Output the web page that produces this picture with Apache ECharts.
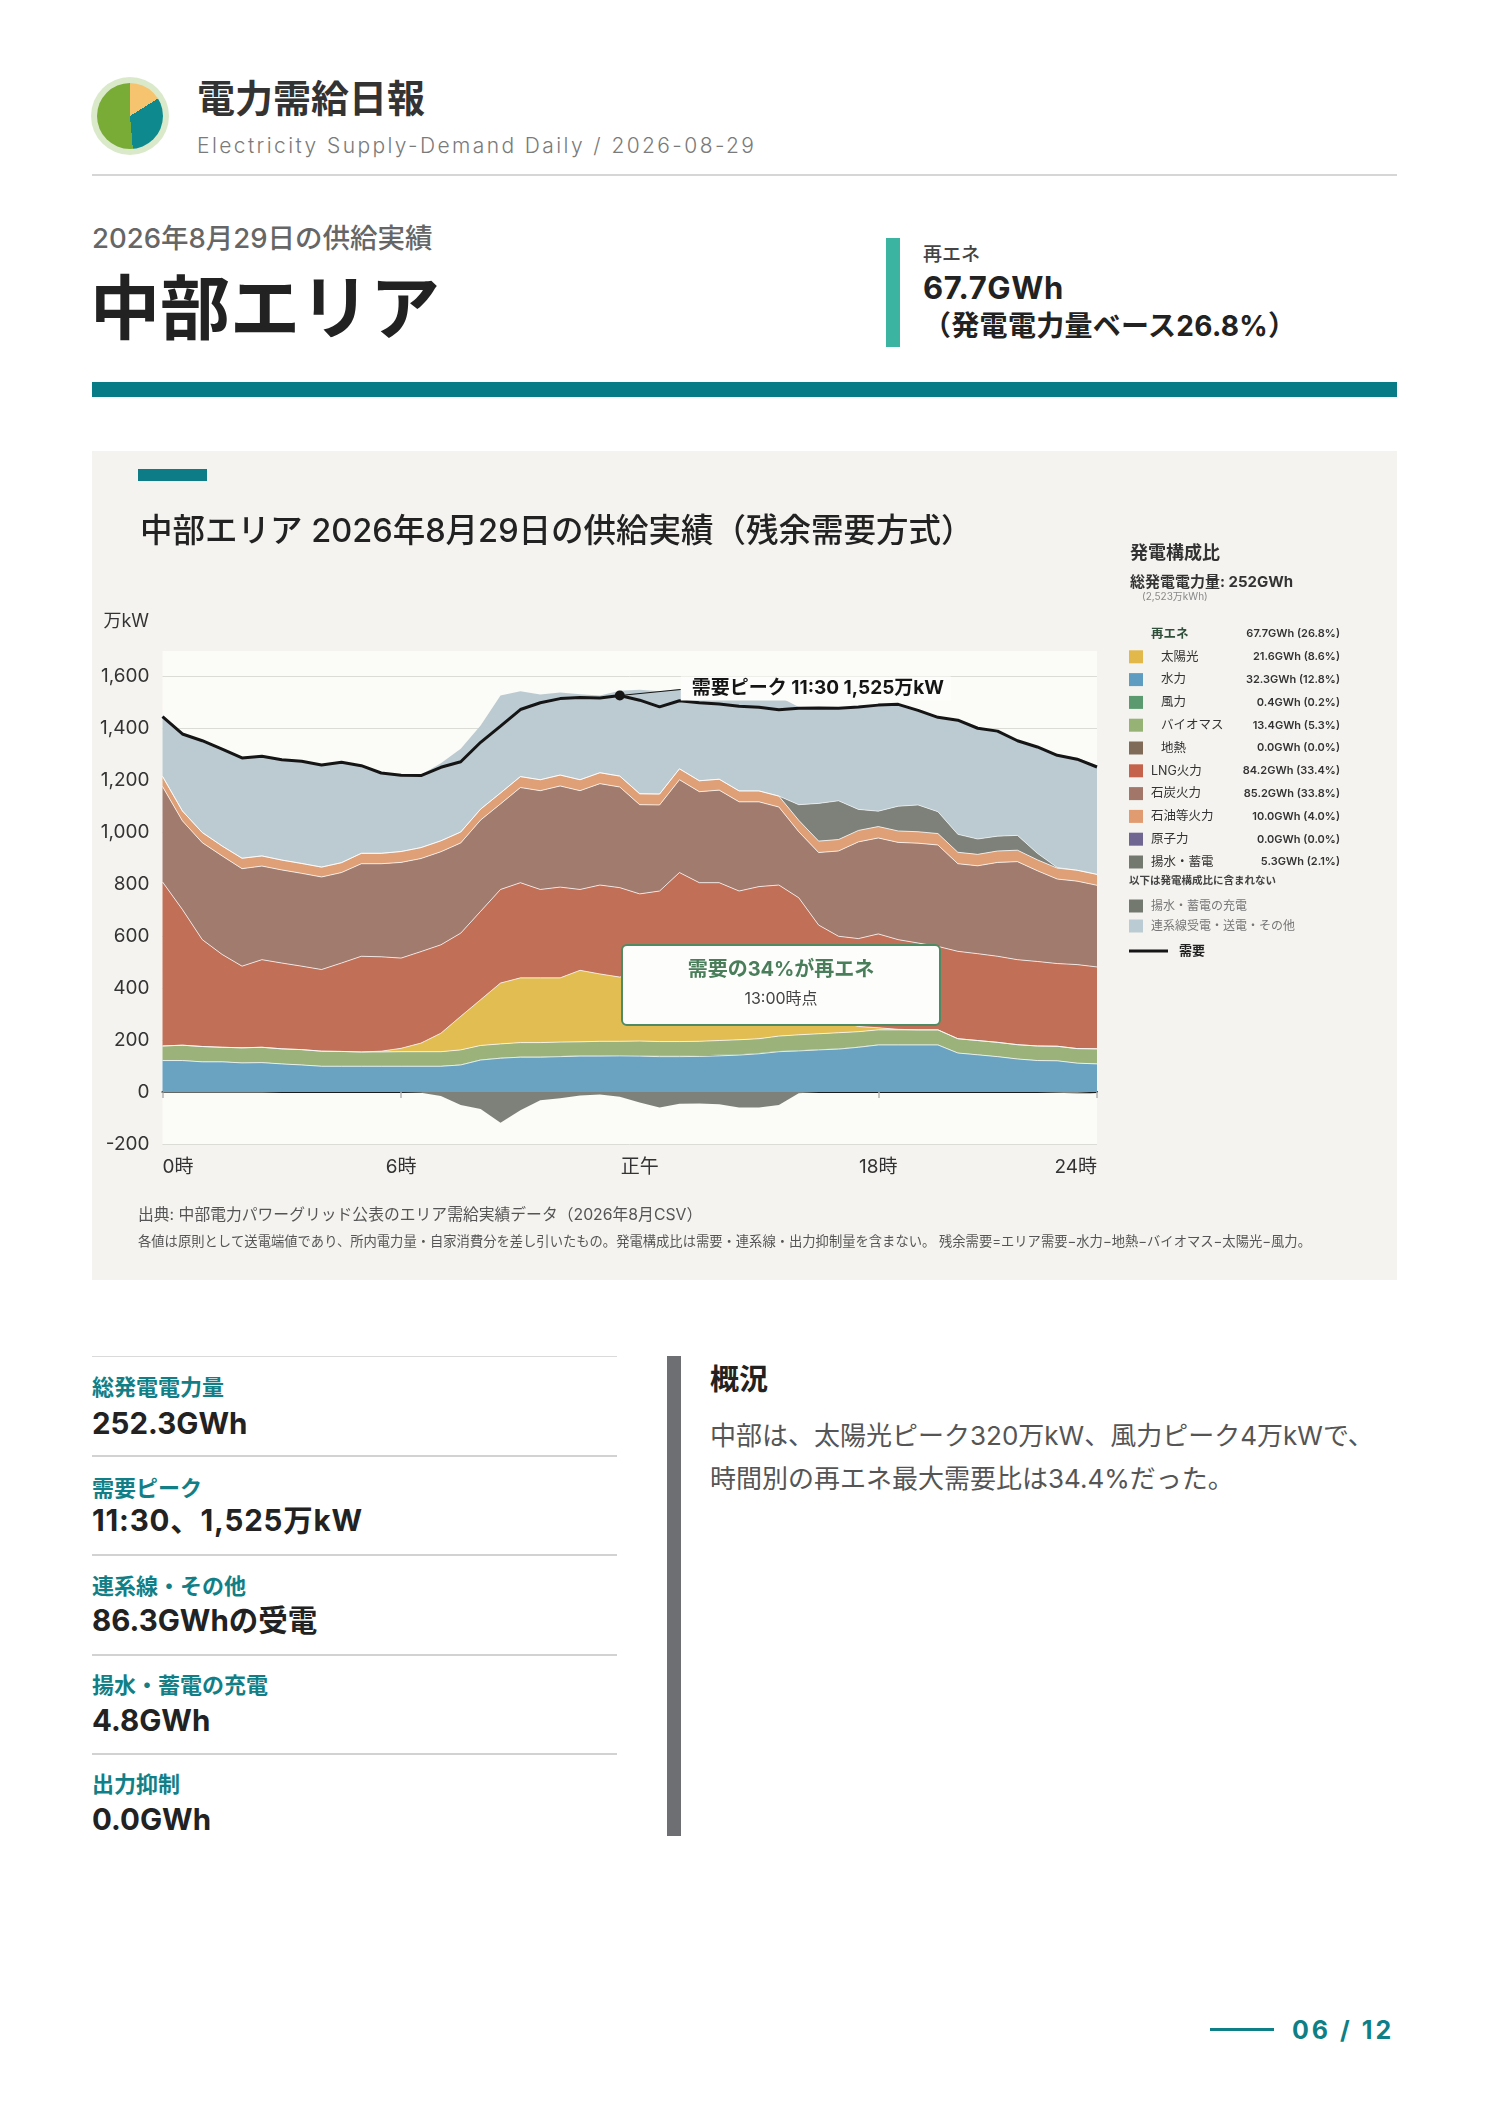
<!DOCTYPE html>
<html lang="ja">
<head>
<meta charset="UTF-8">
<title>電力需給日報 中部エリア 2026-08-29</title>
<script src="https://cdn.jsdelivr.net/npm/echarts@6.0.0/dist/echarts.min.js"></script>
<style>
  body { margin: 0; background: #fff; }
  #page { position: relative; width: 1488px; height: 2105px; overflow: hidden;
          font-family: "Inter", "Noto Sans CJK JP", sans-serif; color: #222; }
  .t { position: absolute; white-space: nowrap; }
  .b { position: absolute; }
  .lbl { font-size: 22px; font-weight: 700; color: #127f87; line-height: 30px; }
  .val { font-size: 29.5px; font-weight: 700; color: #222; line-height: 38px; }
</style>
</head>
<body>
<div id="page">
  <!-- header -->
  <div class="b" style="left:91px;top:77px;width:78px;height:78px;border-radius:50%;background:#dbe9cb;"></div>
  <div class="b" style="left:97px;top:83px;width:66px;height:66px;border-radius:50%;background:conic-gradient(#f6c46e 0deg 58deg,#0e8a8e 58deg 175deg,#78ac36 175deg 360deg);"></div>
  <div class="t" style="left:197px;top:76px;line-height:44px;font-size:38px;font-weight:700;color:#333;">電力需給日報</div>
  <div class="t" style="left:197px;top:131px;line-height:30px;font-size:21px;font-weight:300;letter-spacing:2.4px;color:#7a7a7a;">Electricity Supply-Demand Daily / 2026-08-29</div>
  <div class="b" style="left:92px;top:174px;width:1305px;height:2px;background:#d6d6d6;"></div>

  <div class="t" style="left:92px;top:220px;line-height:36px;font-size:27.5px;font-weight:500;color:#666;">2026年8月29日の供給実績</div>
  <div class="t" style="left:90px;top:269px;line-height:80px;font-size:70px;font-weight:700;color:#222;">中部エリア</div>

  <div class="b" style="left:886px;top:238px;width:14px;height:109px;background:#3bb4a2;"></div>
  <div class="t" style="left:923px;top:242px;line-height:26px;font-size:19px;font-weight:500;color:#444;">再エネ</div>
  <div class="t" style="left:923px;top:268px;line-height:40px;font-size:31px;font-weight:700;letter-spacing:0.6px;color:#222;">67.7GWh</div>
  <div class="t" style="left:923px;top:308px;line-height:36px;font-size:28px;font-weight:700;letter-spacing:0.3px;color:#222;">（発電電力量ベース26.8%）</div>

  <div class="b" style="left:92px;top:382px;width:1305px;height:15px;background:#077c86;"></div>

  <!-- chart panel -->
  <div class="b" id="panel" style="left:92px;top:451px;width:1305px;height:829px;background:#f4f3ef;"></div>

  <!-- stats -->
  <div class="b" style="left:92px;top:1356px;width:525px;height:1px;background:#dadada;"></div>
  <div class="t lbl" style="left:92px;top:1372px;">総発電電力量</div>
  <div class="t val" style="left:92px;top:1404px;">252.3GWh</div>
  <div class="b" style="left:92px;top:1455px;width:525px;height:2px;background:#d2d2d2;"></div>
  <div class="t lbl" style="left:92px;top:1473px;">需要ピーク</div>
  <div class="t val" style="left:92px;top:1501px;letter-spacing:0.8px;">11:30、1,525万kW</div>
  <div class="b" style="left:92px;top:1554px;width:525px;height:2px;background:#d2d2d2;"></div>
  <div class="t lbl" style="left:92px;top:1571px;">連系線・その他</div>
  <div class="t val" style="left:92px;top:1601px;">86.3GWhの受電</div>
  <div class="b" style="left:92px;top:1654px;width:525px;height:2px;background:#d2d2d2;"></div>
  <div class="t lbl" style="left:92px;top:1670px;">揚水・蓄電の充電</div>
  <div class="t val" style="left:92px;top:1701px;">4.8GWh</div>
  <div class="b" style="left:92px;top:1753px;width:525px;height:2px;background:#d2d2d2;"></div>
  <div class="t lbl" style="left:92px;top:1769px;">出力抑制</div>
  <div class="t val" style="left:92px;top:1800px;">0.0GWh</div>

  <div class="b" style="left:667px;top:1356px;width:14px;height:480px;background:#6e6f73;"></div>
  <div class="t" style="left:710px;top:1361px;line-height:38px;font-size:29px;font-weight:700;color:#222;">概況</div>
  <div class="t" style="left:710px;top:1418px;line-height:36px;font-size:26px;color:#555;">中部は、太陽光ピーク320万kW、風力ピーク4万kWで、</div>
  <div class="t" style="left:710px;top:1461px;line-height:36px;font-size:26px;color:#555;">時間別の再エネ最大需要比は34.4%だった。</div>

  <div class="b" style="left:1210px;top:2028px;width:64px;height:3px;background:#0f7f87;"></div>
  <div class="t" style="left:1292px;top:2014px;line-height:32px;font-size:25px;font-weight:700;letter-spacing:3px;color:#0f7f87;">06 / 12</div>
</div>

<script>
// 30分値（万kW）0:00〜23:30
var times = [];
for (var h = 0; h < 24; h++) { times.push(h + ':00', h + ':30'); }
var xLabelText = { 0: '0時', 12: '6時', 24: '正午', 36: '18時', 47: '24時' };

var hydro = [121,121,116,116,112,113,108,104,99,99,99,99,99,99,99,104,123,130,134,134,136,138,138,139,
             138,136,136,137,139,142,147,155,158,162,165,172,181,181,181,181,150,143,136,127,121,120,111,108];
var wind = [1,1,1,1,1,1,1,1,1,1,1,1,1,1,1,2,2,2,2,2,2,2,2,3,
            3,3,3,4,4,3,3,3,3,2,2,2,2,2,2,2,1,1,1,1,1,1,1,1];
var biomass = [55,58,58,55,57,58,57,58,57,56,54,54,55,55,55,56,54,53,54,54,54,53,55,53,
               55,55,55,54,55,56,55,57,59,60,61,58,56,56,56,56,54,54,54,54,55,55,55,57];
var solar = [0,0,0,0,0,0,0,0,0,0,0,3,13,33,71,129,176,234,249,249,247,275,259,247,
             265,280,320,290,270,245,235,215,170,95,45,20,8,2,0,0,0,0,0,0,0,0,0,0];
var lng = [631,522,411,357,314,337,330,321,314,340,368,363,347,352,340,320,340,360,366,340,349,311,342,344,
           301,299,330,320,337,327,350,366,357,323,326,338,361,345,334,321,336,334,331,327,325,318,323,315];
var coal = [367,341,373,379,375,360,358,357,356,348,356,358,368,358,358,347,351,329,366,380,389,380,390,387,
            343,331,357,350,356,343,326,300,254,279,328,372,369,374,384,390,337,338,361,377,349,325,321,314];
var oil = [39,38,39,38,40,39,38,38,38,38,40,40,42,42,42,42,42,42,42,42,42,42,42,42,
           42,42,42,42,42,42,42,42,44,44,44,44,44,44,44,44,44,44,44,44,42,42,42,42];
var pumpGen = [0,0,0,0,0,0,0,0,0,0,0,0,0,0,0,0,0,0,0,0,0,0,0,0,
               0,0,0,0,0,0,0,0,60,145,149,81,59,95,103,84,69,59,57,57,25,2,0,0];
var tieLine = [233,299,356,376,389,386,386,393,393,386,337,309,293,280,298,320,322,375,328,328,318,329,297,328,
               400,395,307,344,336,386,382,382,376,367,356,394,408,392,364,363,439,426,404,364,409,435,433,419];
var pumpCharge = [-3,-3,-3,-3,-3,-3,0,0,0,0,0,0,0,-3,-15,-50,-65,-118,-70,-32,-24,-13,-10,-18,
                  -40,-60,-45,-44,-47,-60,-60,-50,-5,0,0,0,0,0,0,0,0,0,0,0,0,-3,-6,-6];
var demand = [1444,1377,1351,1319,1285,1291,1278,1272,1258,1268,1255,1227,1218,1217,1249,1270,1345,1407,1471,1497,1513,1517,1515,1525,
              1507,1481,1505,1497,1492,1484,1480,1470,1476,1477,1476,1481,1488,1491,1468,1441,1430,1399,1388,1351,1327,1295,1280,1250];

// 発電構成比
var mixNames = ['太陽光','水力','風力','バイオマス','地熱','LNG火力','石炭火力','石油等火力','原子力','揚水・蓄電'];
var mixGWh = [21.6,32.3,0.4,13.4,0.0,84.2,85.2,10.0,0.0,5.3];
var mixPct = [8.6,12.8,0.2,5.3,0.0,33.4,33.8,4.0,0.0,2.1];
var mixRenew = [true,true,true,true,true,false,false,false,false,false];
var mixColors = ['#e3b84b','#5e9dc1','#5b9a6f','#97b275','#7f6b58','#c4624b','#a3766a','#e19b70','#6f6791','#747970'];
var renewGWh = 67.7, renewPct = 26.8;
var extraNames = ['揚水・蓄電の充電','連系線受電・送電・その他'];
var extraColors = ['#747970','#bacbd3'];

var FONT = '"Inter", "Noto Sans CJK JP", sans-serif';

function area(name, data, color, stack, lineW) {
  return {
    name: name, type: 'line', stack: stack, data: data, xAxisIndex: 0,
    symbol: 'none', smooth: false,
    lineStyle: { width: lineW, color: 'rgba(255,255,255,0.75)' },
    areaStyle: { color: color, opacity: 1 },
    emphasis: { disabled: true }, silent: true, z: 2
  };
}

function text(str, x, y, font, fill, align, z) {
  return { type: 'text', x: x, y: y, z: z || 1, silent: true,
    style: { text: str, font: font, fill: fill, textAlign: align || 'left', align: align || 'left',
             textVerticalAlign: 'middle', verticalAlign: 'middle' } };
}

var chart = echarts.init(document.getElementById('panel'));

chart.setOption({
  animation: false,
  textStyle: { fontFamily: FONT },
  grid: { left: 70.5, right: 300, top: 225, bottom: 136, show: false, containLabel: false, outerBoundsMode: 'none' },
  xAxis: [
    { type: 'category', data: times, boundaryGap: false, position: 'bottom',
      axisLine: { show: false, onZero: false }, axisTick: { show: false }, splitLine: { show: false },
      axisLabel: {
        interval: function (i) { return xLabelText[i] !== undefined; },
        formatter: function (v, i) { return xLabelText[i] || ''; },
        alignMinLabel: 'left', alignMaxLabel: 'right',
        margin: 14, fontSize: 19, color: '#333', fontFamily: FONT
      } },
    { type: 'category', data: times, boundaryGap: false, position: 'bottom',
      axisLine: { show: true, onZero: true, lineStyle: { color: '#1b1b1b', width: 2 } },
      axisTick: { show: true, interval: function (i) { return xLabelText[i] !== undefined; },
                  length: 6, lineStyle: { color: '#b5b5b5', width: 1.5 } },
      axisLabel: { show: false }, splitLine: { show: false } }
  ],
  yAxis: {
    type: 'value', min: -200, max: 1600, interval: 200,
    axisLine: { show: false }, axisTick: { show: false },
    axisLabel: { formatter: function (v) { return v.toLocaleString('en-US'); },
                 fontSize: 19, color: '#333', margin: 13, fontFamily: FONT },
    splitLine: { lineStyle: { color: '#dcdcd6', width: 1 } }
  },
  series: [
    area('水力', hydro, '#6aa2c2', 'pos', 1),
    area('風力', wind, '#5b9a6f', 'pos', 0),
    area('バイオマス', biomass, '#9bb27b', 'pos', 1),
    area('太陽光', solar, '#e2bd52', 'pos', 1),
    area('LNG火力', lng, '#c26f57', 'pos', 1),
    area('石炭火力', coal, '#a17b6e', 'pos', 1),
    area('石油等火力', oil, '#e0a077', 'pos', 1),
    area('揚水・蓄電', pumpGen, '#7e8179', 'pos', 0.8),
    area('連系線受電・送電・その他', tieLine, '#bccbd1', 'pos', 0),
    area('揚水・蓄電の充電', pumpCharge, '#7e8179', 'neg', 0),
    { name: '需要', type: 'line', data: demand, xAxisIndex: 0, symbol: 'none', smooth: false,
      lineStyle: { color: '#151515', width: 3 }, z: 5, silent: true,
      markPoint: { symbol: 'circle', symbolSize: 10, silent: true,
                   itemStyle: { color: '#151515' }, label: { show: false },
                   data: [{ type: 'max' }] } }
  ]
});

function buildGraphic(peakIdx, p) {
  var els = [];
  els.push({ type: 'rect', z: -1, silent: true, shape: { x: 70.5, y: 200, width: 934.5, height: 493 },
             style: { fill: '#fbfbf7' } });
  els.push({ type: 'rect', silent: true, shape: { x: 46, y: 18, width: 69, height: 12 }, style: { fill: '#0e7c86' } });
  els.push(text('中部エリア 2026年8月29日の供給実績（残余需要方式）', 48, 81, '500 32.5px ' + FONT, '#222'));
  els.push(text('万kW', 57, 171, '18px ' + FONT, '#333', 'right'));

  // legend
  els.push(text('発電構成比', 1038, 103, 'bold 18px ' + FONT, '#333'));
  els.push(text('総発電電力量: 252GWh', 1038, 131, 'bold 15px ' + FONT, '#333'));
  els.push(text('(2,523万kWh)', 1050, 146, '10px ' + FONT, '#888'));
  var y0 = 183, step = 22.8;
  els.push(text('再エネ', 1059, y0, 'bold 12.5px ' + FONT, '#2f4f3a'));
  els.push(text(renewGWh.toFixed(1) + 'GWh (' + renewPct.toFixed(1) + '%)', 1248, y0, '600 11px ' + FONT, '#333', 'right'));
  for (var k = 0; k < mixNames.length; k++) {
    var yy = y0 + step * (k + 1);
    els.push({ type: 'rect', silent: true, shape: { x: 1037, y: yy - 6.5, width: 14, height: 13 }, style: { fill: mixColors[k] } });
    els.push(text(mixNames[k], mixRenew[k] ? 1069 : 1059, yy, '12.5px ' + FONT, '#333'));
    els.push(text(mixGWh[k].toFixed(1) + 'GWh (' + mixPct[k].toFixed(1) + '%)', 1248, yy, '600 11px ' + FONT, '#333', 'right'));
  }
  els.push(text('以下は発電構成比に含まれない', 1037, 430, 'bold 10.5px ' + FONT, '#444'));
  for (var j = 0; j < extraNames.length; j++) {
    var ey = 455 + 20 * j;
    els.push({ type: 'rect', silent: true, shape: { x: 1037, y: ey - 6.5, width: 14, height: 13 }, style: { fill: extraColors[j] } });
    els.push(text(extraNames[j], 1059, ey, '12px ' + FONT, '#777'));
  }
  els.push({ type: 'line', silent: true, shape: { x1: 1037, y1: 500, x2: 1076, y2: 500 }, style: { stroke: '#151515', lineWidth: 3 } });
  els.push(text('需要', 1087, 500, 'bold 13px ' + FONT, '#222'));

  // source
  els.push(text('出典: 中部電力パワーグリッド公表のエリア需給実績データ（2026年8月CSV）', 46, 764, '15.8px ' + FONT, '#555'));
  els.push(text('各値は原則として送電端値であり、所内電力量・自家消費分を差し引いたもの。発電構成比は需要・連系線・出力抑制量を含まない。 残余需要=エリア需要−水力−地熱−バイオマス−太陽光−風力。',
                46, 791, '13.3px ' + FONT, '#555'));

  // peak annotation
  var lx = p[0] + 61, ly = p[1] - 7;
  els.push({ type: 'line', z: 20, silent: true, shape: { x1: p[0], y1: p[1], x2: lx, y2: ly + 1 },
             style: { stroke: '#151515', lineWidth: 1 } });
  els.push({ type: 'rect', z: 20, silent: true, shape: { x: lx, y: ly - 12, width: 270, height: 24 },
             style: { fill: '#fdfdfb' } });
  els.push(text('需要ピーク ' + times[peakIdx] + ' ' + demand[peakIdx].toLocaleString('en-US') + '万kW',
                lx + 11, ly, 'bold 19px ' + FONT, '#151515', 'left', 21));

  // renewable share box
  els.push({ type: 'rect', z: 20, silent: true, shape: { x: 530, y: 494, width: 318, height: 80, r: 5 },
             style: { fill: '#fdfdfb', stroke: '#4e8a62', lineWidth: 2 } });
  els.push(text('需要の34%が再エネ', 689, 519, 'bold 20px ' + FONT, '#4a7d5a', 'center', 21));
  els.push(text('13:00時点', 689, 548, '16px ' + FONT, '#444', 'center', 21));
  return els;
}

var peakIdx = demand.indexOf(Math.max.apply(null, demand));
var p = chart.convertToPixel({ seriesIndex: 10 }, [peakIdx, demand[peakIdx]]);
chart.setOption({ graphic: { elements: buildGraphic(peakIdx, p) } });
</script>
</body>
</html>
